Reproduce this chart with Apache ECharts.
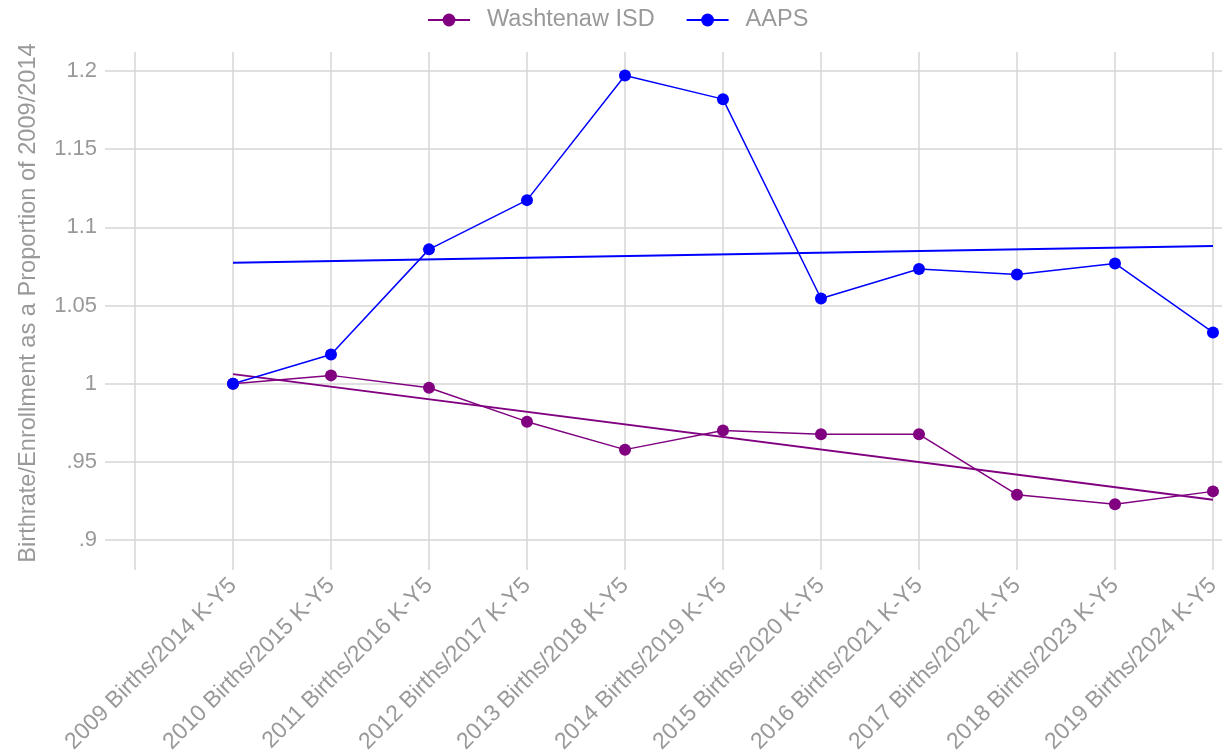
<!DOCTYPE html>
<html>
<head>
<meta charset="utf-8">
<script src="https://cdn.jsdelivr.net/npm/echarts@6/dist/echarts.min.js"></script>
<style>
html,body{margin:0;padding:0;background:#fff;}
#chart{width:1222px;height:756px;}
</style>
</head>
<body>
<div id="chart"></div>
<script>
// Categories (first slot is an empty level shown only as a gridline)
const categories = ["", "2009 Births/2014 K-Y5", "2010 Births/2015 K-Y5", "2011 Births/2016 K-Y5",
  "2012 Births/2017 K-Y5", "2013 Births/2018 K-Y5", "2014 Births/2019 K-Y5", "2015 Births/2020 K-Y5",
  "2016 Births/2021 K-Y5", "2017 Births/2022 K-Y5", "2018 Births/2023 K-Y5", "2019 Births/2024 K-Y5"];
const washtenaw = [1.0, 1.0053, 0.9974, 0.9757, 0.9578, 0.9701, 0.9676, 0.9676, 0.929, 0.9228, 0.9311];
const aaps = [1.0, 1.0187, 1.0859, 1.1174, 1.1971, 1.182, 1.0545, 1.0733, 1.0699, 1.0769, 1.0328];
// Trend line end values (first and last category)
const washtenawTrend = [1.0061, 0.9258];
const aapsTrend = [1.0774, 1.088];
const yTicks = [0.9, 0.95, 1.0, 1.05, 1.1, 1.15, 1.2];

const toPts = arr => arr.map((v, i) => [i + 1, v]);
const trendPts = t => [[1, t[0]], [categories.length - 1, t[1]]];

const gray = '#999999';
const gridColor = '#d6d6d6';
const font = 'Liberation Sans, Arial, Helvetica, sans-serif';

const chart = echarts.init(document.getElementById('chart'), null, {renderer: 'canvas'});
chart.setOption({
  backgroundColor: '#ffffff',
  animation: false,
  legend: {
    top: 3,
    left: 422,
    itemWidth: 42,
    itemHeight: 16,
    itemGap: 31,
    data: ['Washtenaw ISD', 'AAPS'],
    textStyle: {color: gray, fontSize: 23.5, fontFamily: font, padding: [0, 0, 0, 12]}
  },
  grid: {left: 105, right: 0, top: 52, bottom: 186, containLabel: false, outerBoundsMode: 'none'},
  xAxis: {
    type: 'value',
    min: -0.306,
    max: 11.092,
    axisLine: {show: false},
    axisTick: {show: false, customValues: categories.map((c, i) => i)},
    splitLine: {show: true, lineStyle: {color: gridColor, width: 1.5}},
    axisLabel: {
      customValues: categories.map((c, i) => i).slice(1),
      formatter: v => categories[Math.round(v)] || '',
      rotate: 45,
      margin: 12,
      color: gray,
      fontSize: 23,
      fontFamily: font
    }
  },
  yAxis: {
    type: 'value',
    min: 0.88081,
    max: 1.21215,
    name: 'Birthrate/Enrollment as a Proportion of 2009/2014',
    nameLocation: 'middle',
    nameGap: 65,
    nameTextStyle: {color: gray, fontSize: 23.6, fontFamily: font, padding: [0, 0, 0, 16]},
    axisLine: {show: false},
    axisTick: {show: false, customValues: yTicks},
    splitLine: {show: true, lineStyle: {color: gridColor, width: 1.5}},
    axisLabel: {
      customValues: yTicks,
      formatter: v => String(+v.toFixed(2)).replace(/^0\./, '.'),
      margin: 8,
      color: gray,
      fontSize: 22,
      fontFamily: font
    }
  },
  series: [
    {
      name: 'Washtenaw ISD', type: 'line', data: toPts(washtenaw),
      symbol: 'circle', symbolSize: 12,
      itemStyle: {color: '#800080'}, lineStyle: {color: '#800080', width: 1.5}, z: 3
    },
    {
      name: 'AAPS', type: 'line', data: toPts(aaps),
      symbol: 'circle', symbolSize: 12,
      itemStyle: {color: '#0000ff'}, lineStyle: {color: '#0000ff', width: 1.5}, z: 3
    },
    {
      name: 'Washtenaw trend', type: 'line', data: trendPts(washtenawTrend),
      symbol: 'none', lineStyle: {color: '#800080', width: 2}, z: 2
    },
    {
      name: 'AAPS trend', type: 'line', data: trendPts(aapsTrend),
      symbol: 'none', lineStyle: {color: '#0000ff', width: 2}, z: 2
    }
  ]
});
</script>
</body>
</html>
